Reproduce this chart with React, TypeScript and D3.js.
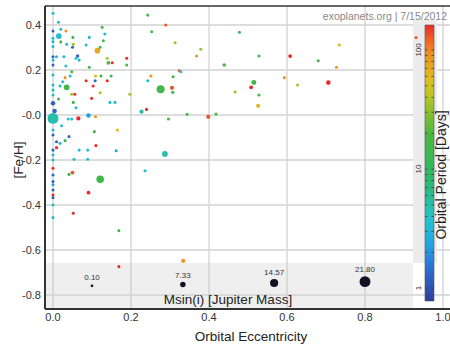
import React from 'react';
import * as d3 from 'd3';

// period codes (days)
const B = 1.3, LB = 2.2, C = 3.5, T = 5, G = 15, YG = 35, Y = 60, O = 90, OR = 130, R = 400;

// [eccentricity, [Fe/H], msini (Mjup), period (days)]
const planets: [number, number, number, number][] = [
    [0, 0.452, 1, C], [0.014, 0.412, 1, C], [0, 0.373, 1, B], [0.015, 0.351, 8, C],
    [0.020, 0.381, 1, C], [0.033, 0.373, 1, O], [0, 0.341, 1, C], [0, 0.326, 1, C],
    [0, 0.304, 1, C], [0.020, 0.325, 1, G], [0.035, 0.314, 1, C], [0.051, 0.345, 1, G],
    [0.052, 0.314, 1, YG], [0.050, 0.301, 1, B], [0.093, 0.345, 1, C], [0.126, 0.390, 1, G],
    [0.133, 0.360, 1, C], [0.129, 0.330, 1, G], [0.121, 0.301, 1, G], [0.114, 0.286, 8, 70],
    [0.085, 0.311, 1, C], [0.063, 0.262, 2, B], [0.067, 0.244, 1, C], [0.059, 0.252, 1, C],
    [0.028, 0.259, 1, C], [0.009, 0.259, 1, C], [0, 0.259, 1, B], [0, 0.244, 1, C],
    [0, 0.222, 1, B], [0.033, 0.218, 1, C], [0.093, 0.212, 1, G], [0.048, 0.192, 1, G],
    [0.139, 0.252, 1, YG], [0.142, 0.232, 3, G], [0.152, 0.232, 1, R], [0.189, 0.252, 1, R],
    [0.189, 0.222, 1, G], [0, 0.178, 1, C], [0.031, 0.166, 1, O], [0.044, 0.173, 1, C],
    [0.035, 0.123, 8, G], [0.018, 0.129, 1, C], [0.025, 0.148, 1, C], [0.085, 0.152, 1, R],
    [0.109, 0.173, 1, Y], [0.108, 0.152, 1, B], [0.123, 0.173, 1, G], [0.139, 0.152, 1, R],
    [0.149, 0.173, 1, G], [0.103, 0.129, 1, R], [0.121, 0.099, 1, YG], [0.099, 0.074, 1, R],
    [0.056, 0.092, 1, R], [0.048, 0.092, 1, YG], [0.014, 0.071, 1, G], [0.197, 0.092, 1, YG],
    [0.243, 0.444, 1, G], [0.243, 0.152, 1, C], [0, 0.052, 5, B], [0.059, 0.032, 1, C],
    [0.146, 0.056, 1, C], [0.159, 0.056, 1, C], [0.052, 0.056, 1, G], [0.227, 0.015, 4, T],
    [0.240, 0.025, 1, R], [0.091, -0.002, 5, LB], [0.065, -0.015, 4, R], [0.039, -0.018, 1, C],
    [0.048, -0.018, 1, C], [0.109, -0.008, 1, O], [0.004, 0.018, 5, B], [0.022, -0.048, 1, C],
    [0.009, -0.119, 1, B], [0.018, -0.126, 1, C], [0.031, -0.114, 1, G], [0.041, -0.096, 1, B],
    [0.009, -0.145, 1, R], [0.106, -0.074, 1, G], [0.165, -0.067, 1, Y], [0.110, -0.136, 1, R],
    [0.067, -0.156, 1, C], [0.089, -0.156, 1, C], [0.162, -0.159, 1, LB], [0.054, -0.197, 1, C],
    [0.089, -0.197, 1, C], [0.236, -0.248, 1, C], [0, -0.237, 1, R], [0.041, -0.264, 1, G],
    [0.050, -0.256, 3, OR], [0.121, -0.286, 13, G], [0.091, -0.345, 3, R], [0, -0.356, 1, R],
    [0, -0.368, 1, B], [0, -0.400, 1, C], [0.052, -0.437, 1, R], [0, -0.456, 1, C],
    [0.169, -0.514, 1, G], [0.169, -0.674, 1, R],
    [0, 0.133, 1, C], [0, 0.111, 1, T], [0, 0.089, 1, C], [0, -0.030, 1, C], [0, -0.067, 1, C],
    [0, -0.089, 1, B], [0, -0.156, 1, B], [0, -0.178, 1, C], [0, -0.200, 1, C], [0, -0.267, 1, B],
    [0, -0.296, 1, B], [0, -0.310, 1, LB], [0, -0.333, 1, B],
    [0.253, 0.370, 1, G], [0.289, 0.400, 1, OR], [0.478, 0.368, 1, G], [0.313, 0.321, 1, YG],
    [0.379, 0.292, 1, YG], [0.368, 0.262, 1, O], [0.528, 0.262, 1, G], [0.608, 0.262, 3, R],
    [0.439, 0.222, 2.5, G], [0.324, 0.197, 1, OR], [0.328, 0.192, 1, C], [0.308, 0.170, 1, G],
    [0.251, 0.173, 1, O], [0.276, 0.114, 14, G], [0.305, 0.121, 4, OR], [0.307, 0.101, 1.5, G],
    [0.515, 0.144, 6, G], [0.508, 0.123, 3, R], [0.467, 0.102, 1, YG], [0.528, 0.089, 1, G],
    [0.526, 0.041, 4, Y], [0.593, 0.166, 1, O], [0.627, 0.133, 1, YG], [0.398, -0.008, 4, OR],
    [0.418, 0.004, 1, G], [0.344, 0.003, 1, G], [0.296, -0.018, 1, G], [0.287, -0.173, 8, T],
    [0.334, -0.648, 4, O], [0.931, 0.344, 1, OR], [0.734, 0.311, 1, Y], [0.680, 0.241, 1, G],
    [0.727, 0.212, 1, O], [0.706, 0.144, 5, R],
    [0, -0.015, 22, T],
];

const xTicks = [0, 0.2, 0.4, 0.6, 0.8, 1.0];
const xTickLabels = ['0.0', '0.2', '0.4', '0.6', '0.8', '1.0'];
const yTicks = [0.4, 0.2, 0, -0.2, -0.4, -0.6, -0.8];
const yTickLabels = ['0.4', '0.2', '-0.0', '-0.2', '-0.4', '-0.6', '-0.8'];

const legendMass = [0.10, 7.33, 14.57, 21.80];
const legendEcc = [0.1, 0.333, 0.567, 0.8];

const periodStops = [0.78, 1.5, 2.5, 4, 8, 20, 50, 100, 162];
const periodColors = ['#2d3f99', '#2f6fd2', '#21aee6', '#26c2c8', '#2bb86a', '#4cb83e', '#d8c81e', '#f08a22', '#e82a2a'];
const periodTicks = [1, 10, 100];

const font = '"Liberation Sans", Arial, sans-serif';

export default function App() {
    const x = d3.scaleLinear().domain([0, 1]).range([53, 443]);
    const y = d3.scaleLinear().domain([0.4, -0.8]).range([25, 295]);
    const rad = d3.scaleLinear().domain([0, 21.8]).range([1.35, 5.45]);
    const color = d3.scaleLog<string>().domain(periodStops).range(periodColors).clamp(true);
    const cbar = d3.scaleLog().domain([0.78, 162]).range([301, 25]);

    const left = 45, top = 6, bottom = 309;
    const bandTop = 263;

    const gradStops = d3.range(0, 21).map(i => {
        const v = Math.pow(10, Math.log10(0.78) + (i / 20) * (Math.log10(162) - Math.log10(0.78)));
        return { off: i / 20, c: color(v) };
    });

    const minor: number[] = [];
    [1, 10, 100].forEach(d => d3.range(1, 10).forEach(k => {
        const v = d * k;
        if (v >= 0.78 && v <= 162) minor.push(v);
    }));

    const sorted = [...planets].sort((a, b) => b[2] - a[2]);

    return (
        <svg width={450} height={347} style={{ position: 'absolute', left: 0, top: 0, background: '#fff' }}>
            <defs>
                <linearGradient id="cb" x1="0" y1="1" x2="0" y2="0">
                    {gradStops.map((s, i) => <stop key={i} offset={s.off} stopColor={s.c} />)}
                </linearGradient>
            </defs>

            {/* legend band */}
            <rect x={left} y={bandTop} width={413 - left} height={bottom - bandTop} fill="#efefef" />

            {/* grid */}
            {xTicks.map(t => (
                <line key={'gx' + t} x1={x(t)} x2={x(t)} y1={top} y2={bottom} stroke="#c4c4c4" strokeWidth={1} />
            ))}
            {yTicks.map(t => (
                <line key={'gy' + t} x1={left} x2={450} y1={y(t)} y2={y(t)} stroke="#d2d2d2" strokeWidth={1.5} />
            ))}

            {/* colorbar backdrop */}
            <rect x={413} y={20} width={24} height={bandTop - 20} fill="#ececec" />

            {/* planets */}
            {sorted.map((p, i) => (
                <circle key={i} cx={x(p[0])} cy={y(p[1])} r={rad(p[2])} fill={color(p[3])} />
            ))}

            {/* mass legend */}
            {legendMass.map((m, i) => {
                const rr = rad(m);
                const cy = y(-0.765) - rr;
                return (
                    <g key={'lg' + i}>
                        <circle cx={x(legendEcc[i])} cy={cy} r={rr} fill="#111122" />
                        <text x={x(legendEcc[i])} y={cy - rr - 4} textAnchor="middle" fontSize={8} fontFamily={font} fill="#333">
                            {m.toFixed(2)}
                        </text>
                    </g>
                );
            })}
            <text x={228} y={304} textAnchor="middle" fontSize={13.5} fontFamily={font} fill="#222">Msin(i) [Jupiter Mass]</text>

            {/* frame */}
            <line x1={left} x2={left} y1={top} y2={bottom} stroke="#333" strokeWidth={2} />
            <line x1={left} x2={450} y1={bottom} y2={bottom} stroke="#333" strokeWidth={2} />
            <line x1={left} x2={450} y1={top} y2={top} stroke="#333" strokeWidth={1.5} />

            {/* ticks */}
            {xTicks.map((t, i) => (
                <text key={'tx' + t} x={x(t)} y={321} textAnchor="middle" fontSize={11} fontFamily={font} fill="#333">{xTickLabels[i]}</text>
            ))}
            {yTicks.map((t, i) => (
                <text key={'ty' + t} x={41} y={y(t) + 4} textAnchor="end" fontSize={11} fontFamily={font} fill="#333">{yTickLabels[i]}</text>
            ))}

            <text x={251} y={341} textAnchor="middle" fontSize={13.5} fontFamily={font} fill="#222">Orbital Eccentricity</text>
            <text transform="translate(23,160) rotate(-90)" textAnchor="middle" fontSize={13.5} fontFamily={font} fill="#222">[Fe/H]</text>

            <text x={447} y={20} textAnchor="end" fontSize={10.5} fontFamily={font} fill="#888">exoplanets.org | 7/15/2012</text>

            {/* colorbar */}
            <rect x={425} y={cbar(162)} width={9} height={cbar(0.78) - cbar(162)} fill="url(#cb)" stroke="#555" strokeWidth={0.6} />
            {minor.map(v => (
                <g key={'mt' + v}>
                    <line x1={425} x2={427.5} y1={cbar(v)} y2={cbar(v)} stroke="#333" strokeWidth={0.7} />
                    <line x1={431.5} x2={434} y1={cbar(v)} y2={cbar(v)} stroke="#333" strokeWidth={0.7} />
                </g>
            ))}
            {periodTicks.map(t => (
                <text key={'pt' + t} transform={`translate(421,${cbar(t)}) rotate(-90)`} textAnchor="middle" fontSize={8} fontFamily={font} fill="#333">{t}</text>
            ))}
            <text transform="translate(446,175) rotate(-90)" textAnchor="middle" fontSize={14} fontFamily={font} fill="#222">Orbital Period [Days]</text>
        </svg>
    );
}
